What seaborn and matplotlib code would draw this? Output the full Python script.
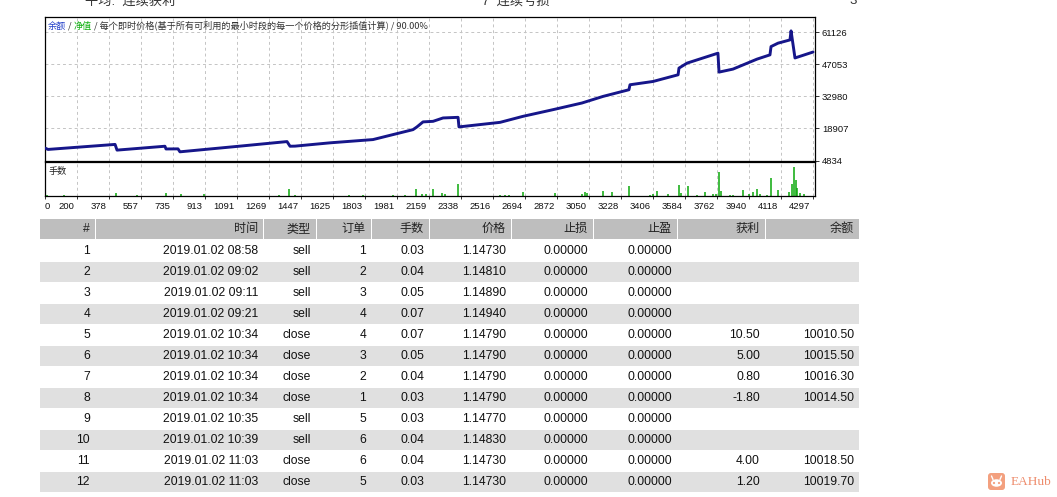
import numpy as np
import pandas as pd
import seaborn as sns
import matplotlib
matplotlib.use("Agg")
import matplotlib.pyplot as plt
import matplotlib.transforms as mtransforms
from matplotlib.patches import Rectangle, FancyBboxPatch, Ellipse

# ---------------- data ----------------
trade_idx = [0, 17, 392, 403, 671, 677, 744, 755, 1091, 1354, 1371, 1399, 1595, 1835,
             1947, 2059, 2081, 2115, 2171, 2227, 2311, 2316, 2546, 2674, 2842, 3004,
             3122, 3267, 3273, 3402, 3542, 3547, 3592, 3765, 3771, 3849, 3984, 4056,
             4062, 4101, 4168, 4174, 4196, 4297]
balance = [10300, 9700, 11900, 9400, 11100, 9900, 9950, 8650, 11150, 13150, 11100, 11150,
           12600, 14030, 16220, 18400, 19600, 21800, 22050, 23530, 23800, 19600, 21600,
           24240, 27170, 30100, 33000, 35930, 38120, 39570, 42500, 45440, 47630, 52000,
           43680, 45000, 49400, 51260, 54900, 56400, 57830, 61800, 49900, 52500]

lot_idx = [11, 106, 397, 515, 677, 761, 890, 1309, 1365, 1399, 1701, 1779, 1947, 2014,
           2076, 2109, 2132, 2171, 2221, 2238, 2311, 2546, 2574, 2596, 2674, 2853, 3004,
           3021, 3032, 3122, 3172, 3267, 3385, 3402, 3424, 3486, 3547, 3558, 3598, 3648,
           3693, 3737, 3754, 3771, 3782, 3833, 3849, 3905, 3939, 3961, 3984, 4000, 4040,
           4062, 4101, 4163, 4179, 4191, 4202, 4207, 4224, 4247]
lot_size = [0.04, 0.04, 0.12, 0.04, 0.12, 0.08, 0.08, 0.04, 0.28, 0.04,
            0.04, 0.04, 0.04, 0.04, 0.28, 0.08, 0.08, 0.28, 0.12, 0.08,
            0.48, 0.04, 0.04, 0.04, 0.16, 0.12, 0.08, 0.16, 0.12, 0.20,
            0.16, 0.40, 0.04, 0.08, 0.20, 0.08, 0.44, 0.12, 0.40, 0.04,
            0.16, 0.08, 0.08, 0.96, 0.20, 0.04, 0.04, 0.24, 0.08, 0.16,
            0.28, 0.08, 0.04, 0.72, 0.24, 0.16, 0.48, 1.16, 0.64, 0.32,
            0.12, 0.08]

xtick_labels = ['0', '200', '378', '557', '735', '913', '1091', '1269', '1447', '1625',
                '1803', '1981', '2159', '2338', '2516', '2694', '2872', '3050', '3228',
                '3406', '3584', '3762', '3940', '4118', '4297']
ytick_values = [4834, 18907, 32980, 47053, 61126]

col_headers = ['#', '时间', '类型', '订单', '手数', '价格', '止损', '止盈', '获利', '余额']
row_num = ['1', '2', '3', '4', '5', '6', '7', '8', '9', '10', '11', '12']
row_time = ['2019.01.02 08:58', '2019.01.02 09:02', '2019.01.02 09:11', '2019.01.02 09:21',
            '2019.01.02 10:34', '2019.01.02 10:34', '2019.01.02 10:34', '2019.01.02 10:34',
            '2019.01.02 10:35', '2019.01.02 10:39', '2019.01.02 11:03', '2019.01.02 11:03']
row_type = ['sell', 'sell', 'sell', 'sell', 'close', 'close', 'close', 'close',
            'sell', 'sell', 'close', 'close']
row_order = ['1', '2', '3', '4', '4', '3', '2', '1', '5', '6', '6', '5']
row_lots = ['0.03', '0.04', '0.05', '0.07', '0.07', '0.05', '0.04', '0.03',
            '0.03', '0.04', '0.04', '0.03']
row_price = ['1.14730', '1.14810', '1.14890', '1.14940', '1.14790', '1.14790', '1.14790',
             '1.14790', '1.14770', '1.14830', '1.14730', '1.14730']
row_sl = ['0.00000'] * 12
row_tp = ['0.00000'] * 12
row_profit = ['', '', '', '', '10.50', '5.00', '0.80', '-1.80', '', '', '4.00', '1.20']
row_balance = ['', '', '', '', '10010.50', '10015.50', '10016.30', '10014.50', '', '',
               '10018.50', '10019.70']

# ---------------- style ----------------
sns.set_style("white")
plt.rcParams['font.family'] = ['Liberation Sans', 'Noto Sans CJK SC', 'DejaVu Sans']

W, H = 1057, 497
fig = plt.figure(figsize=(W / 100, H / 100), dpi=100)


def rect(l, t, r, b):
    return [l / W, 1 - b / H, (r - l) / W, (b - t) / H]


bg = fig.add_axes([0, 0, 1, 1])
bg.set_xlim(0, W)
bg.set_ylim(H, 0)
bg.axis('off')

ax = fig.add_axes(rect(45, 17, 815, 160.5))
ax2 = fig.add_axes(rect(45, 162, 815, 196))

xmax = 4308
xt = [k * 4297 / 24 for k in range(25)]
grid_kw = dict(color='#C4C4C4', linestyle=(0, (3, 3)), linewidth=0.7)

# main balance chart
sns.lineplot(x=trade_idx, y=balance, ax=ax, color='#16168A', linewidth=2.1,
             estimator=None, zorder=3)
ax.set_xlim(0, xmax)
ax.set_ylim(4834, 67900)
ax.set_xticks(xt)
ax.set_yticks(ytick_values)
ax.set_yticklabels([str(v) for v in ytick_values])
ax.yaxis.tick_right()
ax.tick_params(axis='y', right=True, length=3, width=0.6, pad=2, labelsize=6.8,
               colors='#111111')
ax.tick_params(axis='x', bottom=False, labelbottom=False)
ax.grid(True, **grid_kw)
ax.set_xlabel('')
ax.set_ylabel('')
for s in ax.spines.values():
    s.set_color('black')
    s.set_linewidth(0.9)

# legend line inside chart
fam = ['Noto Sans CJK SC', 'DejaVu Sans']
t = ax.text(0.004, 0.905, '余额', transform=ax.transAxes, color='#1E3CC8',
            fontsize=6.6, va='bottom', ha='left', family=fam)
for part, c in [(' / ', '#333333'), ('净值', '#10B010'),
                (' / 每个即时价格(基于所有可利用的最小时段的每一个价格的分形插值计算) / 90.00%', '#333333')]:
    t = ax.annotate(part, xy=(1, 0), xycoords=t, va='bottom', ha='left',
                    color=c, fontsize=6.6, family=fam)

# lots panel
ax2.vlines(lot_idx, 0, lot_size, color='#0AA80A', linewidth=1.1)
ax2.set_xlim(0, xmax)
ax2.set_ylim(0, 1.36)
ax2.set_yticks([])
ax2.set_xticks(xt)
ax2.set_xticklabels(xtick_labels)
ax2.tick_params(axis='x', bottom=True, length=2.5, width=0.6, pad=1.5, labelsize=6.8,
                colors='#111111')
ax2.grid(True, axis='x', **grid_kw)
for s in ax2.spines.values():
    s.set_color('black')
    s.set_linewidth(0.9)
off = mtransforms.ScaledTranslation(-2.5 / 100, 0, fig.dpi_scale_trans)
for i, lbl in enumerate(ax2.get_xticklabels()):
    if i == 0:
        lbl.set_ha('left')
    else:
        lbl.set_ha('right')
        lbl.set_transform(lbl.get_transform() + off)
ax2.text(0.004, 0.72, '手数', transform=ax2.transAxes, fontsize=6.6, va='center',
         ha='left', color='#222222', family=fam)

# cut-off summary text at very top (partially outside, as in the source)
bg.text(85, 1.0, '平均:  连续获利', fontsize=9.5, va='center', ha='left', color='#333333')
bg.text(482, 1.0, '7  连续亏损', fontsize=9.5, va='center', ha='left', color='#333333')
bg.text(849, 1.0, '3', fontsize=9.5, va='center', ha='left', color='#333333')

# ---------------- table ----------------
edges = [40, 96, 264, 317, 372, 430, 512, 594, 678, 766, 860]
columns = [row_num, row_time, row_type, row_order, row_lots, row_price,
           row_sl, row_tp, row_profit, row_balance]
head_top, head_h = 219, 21
row_top0, row_pitch = 241, 21
fs_tab = 8.7
for j, hdr in enumerate(col_headers):
    x0, x1 = edges[j], edges[j + 1] - 1
    bg.add_patch(Rectangle((x0, head_top), x1 - x0, head_h - 1, fc='#BEBEBE', ec='none'))
    bg.text(x1 - 5, head_top + head_h / 2 - 0.5, hdr, fontsize=fs_tab, ha='right',
            va='center', color='#222222')
for i in range(len(row_num)):
    top = row_top0 + i * row_pitch
    if i % 2 == 1:
        bg.add_patch(Rectangle((edges[0], top), edges[-1] - 1 - edges[0], row_pitch - 1,
                               fc='#E0E0E0', ec='none'))
    for j, col in enumerate(columns):
        x1 = edges[j + 1] - 1
        if col[i]:
            bg.text(x1 - 5, top + row_pitch / 2 - 0.5, col[i], fontsize=fs_tab,
                    ha='right', va='center', color='#111111')

# ---------------- watermark logo ----------------
bg.add_patch(FancyBboxPatch((988, 473), 17, 17, boxstyle='round,pad=0,rounding_size=3',
                            fc='#F3A07F', ec='none'))
bg.add_patch(Ellipse((996.5, 483), 11, 7.5, fc='white', ec='none'))
bg.add_patch(Ellipse((994, 483), 2.2, 2.2, fc='#F3A07F', ec='none'))
bg.add_patch(Ellipse((999, 483), 2.2, 2.2, fc='#F3A07F', ec='none'))
bg.plot([993, 991.5], [479.5, 476], color='white', lw=1)
bg.plot([1000, 1001.5], [479.5, 476], color='white', lw=1)
bg.text(1011, 482, 'EAHub', fontsize=9.5, va='center', ha='left', color='#EE8C6C',
        family=['Liberation Serif', 'DejaVu Serif'])

fig.savefig('out.png', dpi=100)
